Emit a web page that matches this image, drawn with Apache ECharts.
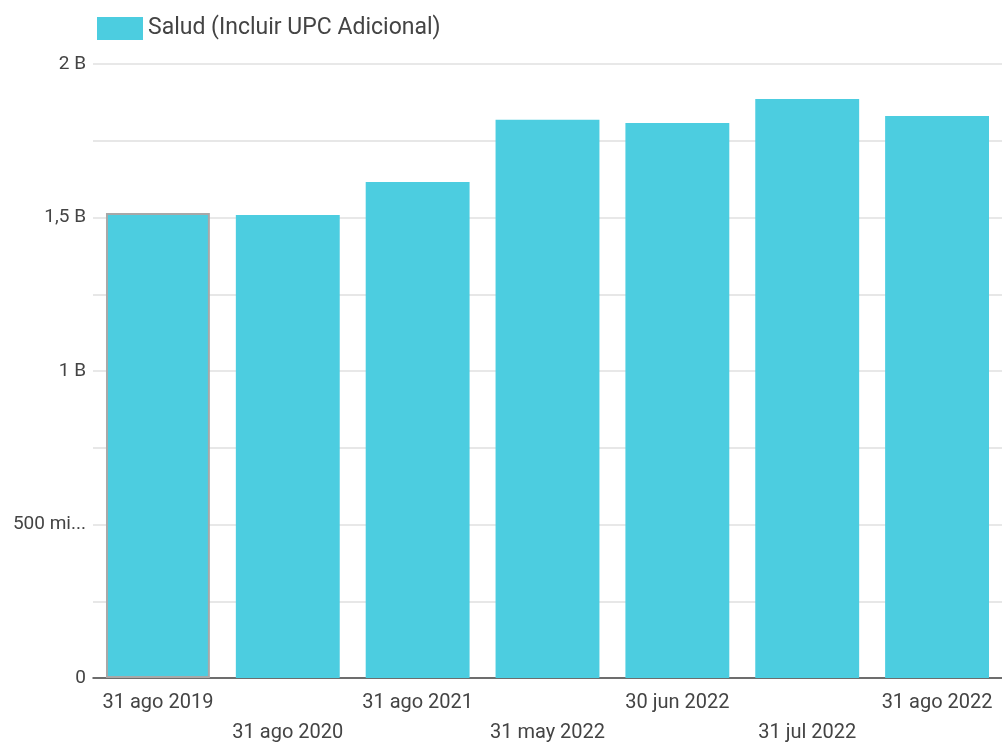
<!DOCTYPE html>
<html><head><meta charset="utf-8">
<script src="https://cdn.jsdelivr.net/npm/echarts@6/dist/echarts.min.js"></script>
<style>html,body{margin:0;padding:0;background:#fff}#c{width:1002px;height:744px}</style>
</head><body><div id="c"></div>
<script>
const categories = ['31 ago 2019','31 ago 2020','31 ago 2021','31 may 2022','30 jun 2022','31 jul 2022','31 ago 2022'];
const seriesName = 'Salud (Incluir UPC Adicional)';
const values = [1.515e9, 1.508e9, 1.616e9, 1.818e9, 1.808e9, 1.886e9, 1.831e9];
const tickValues = [0, 5e8, 1e9, 1.5e9, 2e9];
const tickLabels = ['0', '500 mi...', '1 B', '1,5 B', '2 B'];

const chart = echarts.init(document.getElementById('c'), null, {renderer:'canvas'});
chart.setOption({
  animation:false,
  textStyle:{fontFamily:'Roboto'},
  legend:{
    left:92, top:12, itemWidth:46, itemHeight:23, itemGap:10, icon:'rect',
    textStyle:{fontSize:23, color:'#444', fontFamily:'Roboto'},
    data:[seriesName]
  },
  grid:{left:93, right:0, top:64, bottom:66, containLabel:false, outerBoundsMode:'none'},
  xAxis:{
    type:'category', data:categories,
    axisLine:{lineStyle:{color:'#444', width:1.5}},
    axisTick:{show:false},
    axisLabel:{
      interval:0, fontSize:20, color:'#444', margin:10, lineHeight:30,
      formatter:(v,i)=> i%2 ? '\n'+v : v
    }
  },
  yAxis:{
    type:'value', min:0, max:2e9, interval:5e8,
    axisLine:{show:false},
    axisTick:{show:false},
    axisLabel:{fontSize:19, color:'#444', margin:7,
      formatter:(v)=>{const k=tickValues.indexOf(v);return k>=0?tickLabels[k]:'';}},
    splitLine:{lineStyle:{color:'#e0e0e0', width:1.5}},
    minorTick:{show:false, splitNumber:2},
    minorSplitLine:{show:true, lineStyle:{color:'#e0e0e0', width:1.5}}
  },
  series:[{
    name:seriesName, type:'bar', barCategoryGap:'20%',
    itemStyle:{color:'#4ccde0'},
    data: values.map((v,i)=> i===0 ? {value:v, itemStyle:{borderColor:'#a8a8a8', borderWidth:2}} : v)
  }]
});
</script></body></html>
